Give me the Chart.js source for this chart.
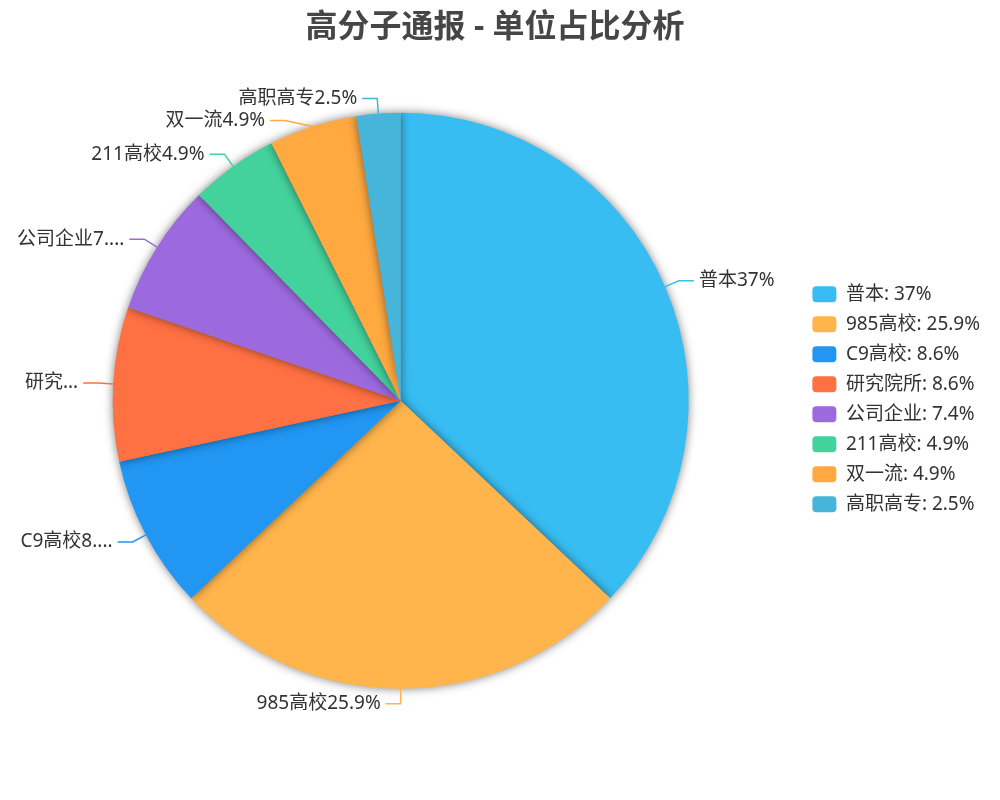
<!DOCTYPE html>
<html lang="zh-CN">

<head>
  <meta charset="UTF-8" />
  <title>高分子通报 - 单位占比分析</title>
  <script src="https://cdn.jsdelivr.net/npm/chart.js"></script>
  <style>
    html, body { margin: 0; padding: 0; background: #fff; }
    #box { width: 1000px; height: 800px; }
  </style>
</head>

<body>
  <div id="box"><canvas id="graficoUnidades"></canvas></div>

<script>
  // dados do gráfico
  const categorias = ['普本', '985高校', 'C9高校', '研究院所', '公司企业', '211高校', '双一流', '高职高专'];
  const quantidades = [30, 21, 7, 7, 6, 4, 4, 2];
  const cores = ['#38bdf2', '#ffb54c', '#2196f3', '#ff7043', '#9c6ade', '#43d29b', '#ffa940', '#47b5d9'];

  const fonte = '"Noto Sans", "Noto Sans CJK SC", sans-serif';
  const total = quantidades.reduce((a, b) => a + b, 0);
  const percentuais = quantidades.map(v => Math.round(v * 1000 / total) / 10);

  // corta o texto com "..." quando não cabe
  function cortarTexto(ctx, texto, largura) {
    if (ctx.measureText(texto).width <= largura) return texto;
    let t = texto;
    while (t.length > 0 && ctx.measureText(t + '...').width > largura) t = t.slice(0, -1);
    return t + '...';
  }

  const sombraPizza = {
    id: 'sombraPizza',
    beforeDatasetsDraw(chart) {
      const ctx = chart.ctx;
      ctx.save();
      ctx.shadowColor = 'rgba(0, 0, 0, 0.5)';
      ctx.shadowBlur = 10;
    },
    afterDatasetsDraw(chart) {
      chart.ctx.restore();
    }
  };

  const rotulosPizza = {
    id: 'rotulosPizza',
    afterDatasetsDraw(chart) {
      const ctx = chart.ctx;
      const arcs = chart.getDatasetMeta(0).data;

      const itens = arcs.map((arc, i) => {
        const p = arc.getProps(['x', 'y', 'startAngle', 'endAngle', 'outerRadius'], true);
        const meio = (p.startAngle + p.endAngle) / 2;
        const cos = Math.cos(meio), sin = Math.sin(meio);
        return {
          i: i, cx: p.x, cy: p.y, r: p.outerRadius,
          direita: cos > 0.01,
          x0: p.x + p.outerRadius * cos, y0: p.y + p.outerRadius * sin,
          x1: p.x + (p.outerRadius + 15) * cos, y1: p.y + (p.outerRadius + 15) * sin
        };
      });

      // empurra rótulos que ficam muito próximos
      [true, false].forEach(lado => {
        const grupo = itens.filter(it => it.direita === lado).sort((a, b) => a.y1 - b.y1);
        for (let k = 1; k < grupo.length; k++) {
          const ant = grupo[k - 1], at = grupo[k];
          if (at.y1 - ant.y1 < 22) {
            at.y1 = ant.y1 + 22;
            const R = at.r + 15, dy = at.y1 - at.cy;
            if (Math.abs(dy) < R) at.x1 = at.cx + (lado ? 1 : -1) * Math.sqrt(R * R - dy * dy);
          }
        }
      });

      ctx.save();
      ctx.font = '19px ' + fonte;
      ctx.textBaseline = 'middle';
      itens.forEach(it => {
        const sinal = it.direita ? 1 : -1;
        const x2 = it.x1 + sinal * 15;
        ctx.strokeStyle = cores[it.i];
        ctx.lineWidth = 1.5;
        ctx.beginPath();
        ctx.moveTo(it.x0, it.y0);
        ctx.lineTo(it.x1, it.y1);
        ctx.lineTo(x2, it.y1);
        ctx.stroke();

        const xt = x2 + sinal * 5;
        const largura = it.direita ? chart.width - 15 - xt : xt - 15;
        const texto = cortarTexto(ctx, categorias[it.i] + percentuais[it.i] + '%', largura);
        ctx.fillStyle = '#333';
        ctx.textAlign = it.direita ? 'left' : 'right';
        ctx.fillText(texto, xt, it.y1);
      });
      ctx.restore();
    }
  };

  const config = {
    type: 'pie',
    data: {
      labels: categorias,
      datasets: [{
        data: quantidades,
        backgroundColor: cores,
        borderWidth: 0,
        radius: 288
      }]
    },
    options: {
      responsive: true,
      maintainAspectRatio: false,
      animation: false,
      layout: {
        padding: { left: 0, right: 10, top: 0, bottom: 56 }
      },
      plugins: {
        title: {
          display: true,
          text: '高分子通报 - 单位占比分析',
          color: '#464646',
          font: { size: 32, weight: 'bold', family: fonte },
          padding: { top: 9, bottom: 10 }
        },
        legend: {
          position: 'right',
          title: {
            display: true,
            text: '',
            font: { size: 12 },
            padding: { top: 20, bottom: 20 }
          },
          labels: {
            boxWidth: 24,
            boxHeight: 16,
            useBorderRadius: true,
            borderRadius: 4,
            padding: 11,
            color: '#333',
            font: { size: 19, family: fonte },
            generateLabels() {
              return categorias.map((c, i) => ({
                text: c + ': ' + percentuais[i] + '%',
                fillStyle: cores[i],
                strokeStyle: cores[i],
                fontColor: '#333',
                lineWidth: 0,
                borderRadius: 4,
                hidden: false,
                index: i
              }));
            }
          }
        },
        tooltip: { enabled: false }
      }
    },
    plugins: [sombraPizza, rotulosPizza]
  };

  new Chart(document.getElementById('graficoUnidades').getContext('2d'), config);
</script>
</body>

</html>
